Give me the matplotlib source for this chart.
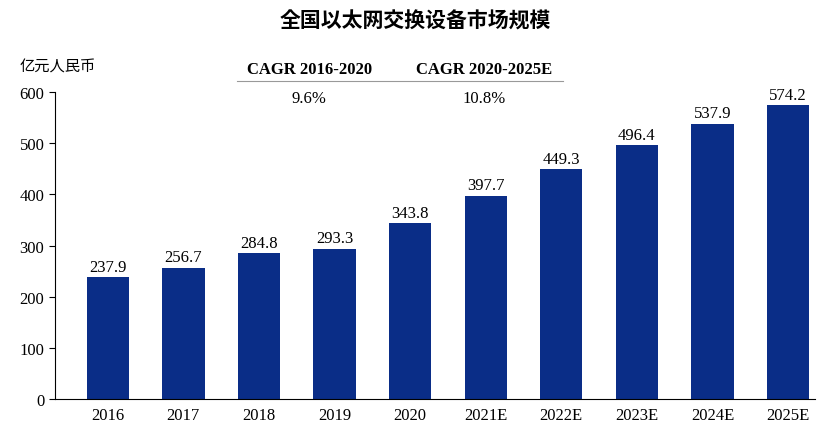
import matplotlib.pyplot as plt
from matplotlib import font_manager as fm

years = ['2016', '2017', '2018', '2019', '2020', '2021E', '2022E', '2023E', '2024E', '2025E']
values = [237.9, 256.7, 284.8, 293.3, 343.8, 397.7, 449.3, 496.4, 537.9, 574.2]
cagr_labels = ['CAGR 2016-2020', 'CAGR 2020-2025E']
cagr_values = ['9.6%', '10.8%']

serif = 'Liberation Serif'
# find any installed CJK font
cjk_names = [f.name for f in fm.fontManager.ttflist if 'CJK' in f.name]
cjk = [n for n in ['Noto Sans CJK SC', 'Noto Sans CJK JP', 'Noto Sans CJK TC',
                   'Noto Sans CJK KR'] if n in cjk_names] + cjk_names + ['DejaVu Sans']
blue = '#0a2d87'

fig = plt.figure(figsize=(8.31, 4.31), dpi=100)
ax = fig.add_axes([0.066, 0.072, 0.915, 0.712])
x = range(len(years))
ax.bar(x, values, width=0.56, color=blue)
for i, v in zip(x, values):
    ax.text(i, v + 5, f'{v:.1f}', ha='center', va='bottom', fontsize=12, family=serif)

ax.set_xlim(-0.7, 9.36)
ax.set_ylim(0, 600)
ax.set_yticks(range(0, 601, 100))
ax.set_xticks(list(x))
ax.set_xticklabels(years)
for lab in ax.get_xticklabels() + ax.get_yticklabels():
    lab.set_family(serif)
    lab.set_fontsize(12)
ax.tick_params(axis='x', length=0, pad=6)
ax.tick_params(axis='y', length=4, direction='out')
ax.spines['top'].set_visible(False)
ax.spines['right'].set_visible(False)

fig.text(0.5, 0.95, '全国以太网交换设备市场规模', ha='center', va='center',
         fontsize=15, family=cjk, weight='bold')
fig.text(0.024, 0.845, '亿元人民币', ha='left', va='center', fontsize=11, family=cjk)

# CAGR table
xs = [0.372, 0.582]
for xx, lab, val in zip(xs, cagr_labels, cagr_values):
    fig.text(xx, 0.838, lab, ha='center', va='center', fontsize=12,
             family=serif, weight='bold')
    fig.text(xx, 0.77, val, ha='center', va='center', fontsize=12, family=serif)
fig.add_artist(plt.Line2D([0.285, 0.677], [0.81, 0.81], color='#999999', lw=0.8))

fig.savefig('out.png', dpi=100)
